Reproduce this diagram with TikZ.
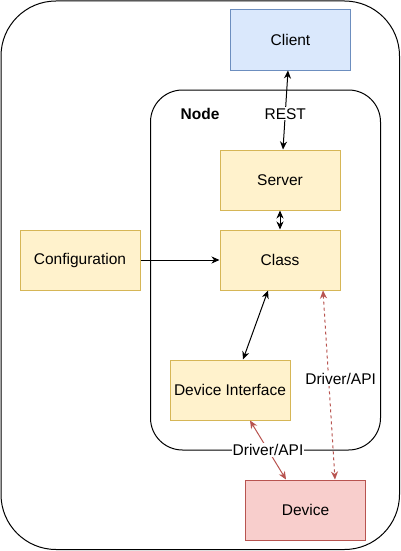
\documentclass[tikz,border=0pt]{standalone}
\usepackage{fontspec}
\setmainfont{Liberation Sans}
\usetikzlibrary{arrows.meta}

\definecolor{yellowfill}{HTML}{FFF2CC}
\definecolor{yellowline}{HTML}{D6B656}
\definecolor{bluefill}{HTML}{DAE8FC}
\definecolor{blueline}{HTML}{6C8EBF}
\definecolor{redfill}{HTML}{F8CECC}
\definecolor{redline}{HTML}{B85450}

\begin{document}
\begin{tikzpicture}[x=1pt,y=-1pt,
    every node/.style={font=\fontsize{15.5}{18}\selectfont},
    box/.style={line width=1pt, minimum width=120pt, minimum height=60pt, inner sep=0pt},
    yellowbox/.style={box, draw=yellowline, fill=yellowfill},
    bluebox/.style={box, draw=blueline, fill=bluefill},
    redbox/.style={box, draw=redline, fill=redfill},
    arr/.style={line width=1pt, >={Stealth[length=8pt,width=7pt,inset=2.5pt]}},
    redarr/.style={arr, draw=redline},
    lbl/.style={fill=white, inner sep=1pt}]
    \useasboundingbox (0,0) rectangle (401,551);

    % frames
    \draw[line width=1pt, rounded corners=55] (1,1) rectangle (399.5,549.5);
    \draw[line width=1pt, rounded corners=32] (150.5,90) rectangle (380.5,450);
    \node (nodelabel) at (200,114) {\textbf{Node}};

    \node (client)[bluebox] 	at (290.5,40)  {Client};
    \node (server)[yellowbox] 	at (280,180)   {Server};
    \node (class)[yellowbox] 	at (280,260)   {Class};
    \node (config)[yellowbox] 	at (80,260)    {Configuration};
    \node (devif)[yellowbox] 	at (230,390)   {Device Interface};
    \node (device)[redbox] 	at (305.5,510) {Device};

    \draw[arr,<->] ([xshift=-2.5]client.south) -- node[lbl, pos=0.55]{REST} ([xshift=3]server.north);
    \draw[arr,<->] (server) -- (class);
    \draw[arr,->] (config) -- (class);
    \draw[arr,<->] ([xshift=-12]class.south) -- ([xshift=13]devif.north);
    \draw[redarr,<->] ([xshift=20]devif.south) -- node[lbl]{Driver/API} ([xshift=-19.5]device.north);
    \draw[redarr,<->,dash pattern=on 3pt off 3pt] ([xshift=43]class.south) -- node[lbl, pos=0.47, xshift=12]{Driver/API} ([xshift=29.5]device.north);
  \end{tikzpicture}
\end{document}
